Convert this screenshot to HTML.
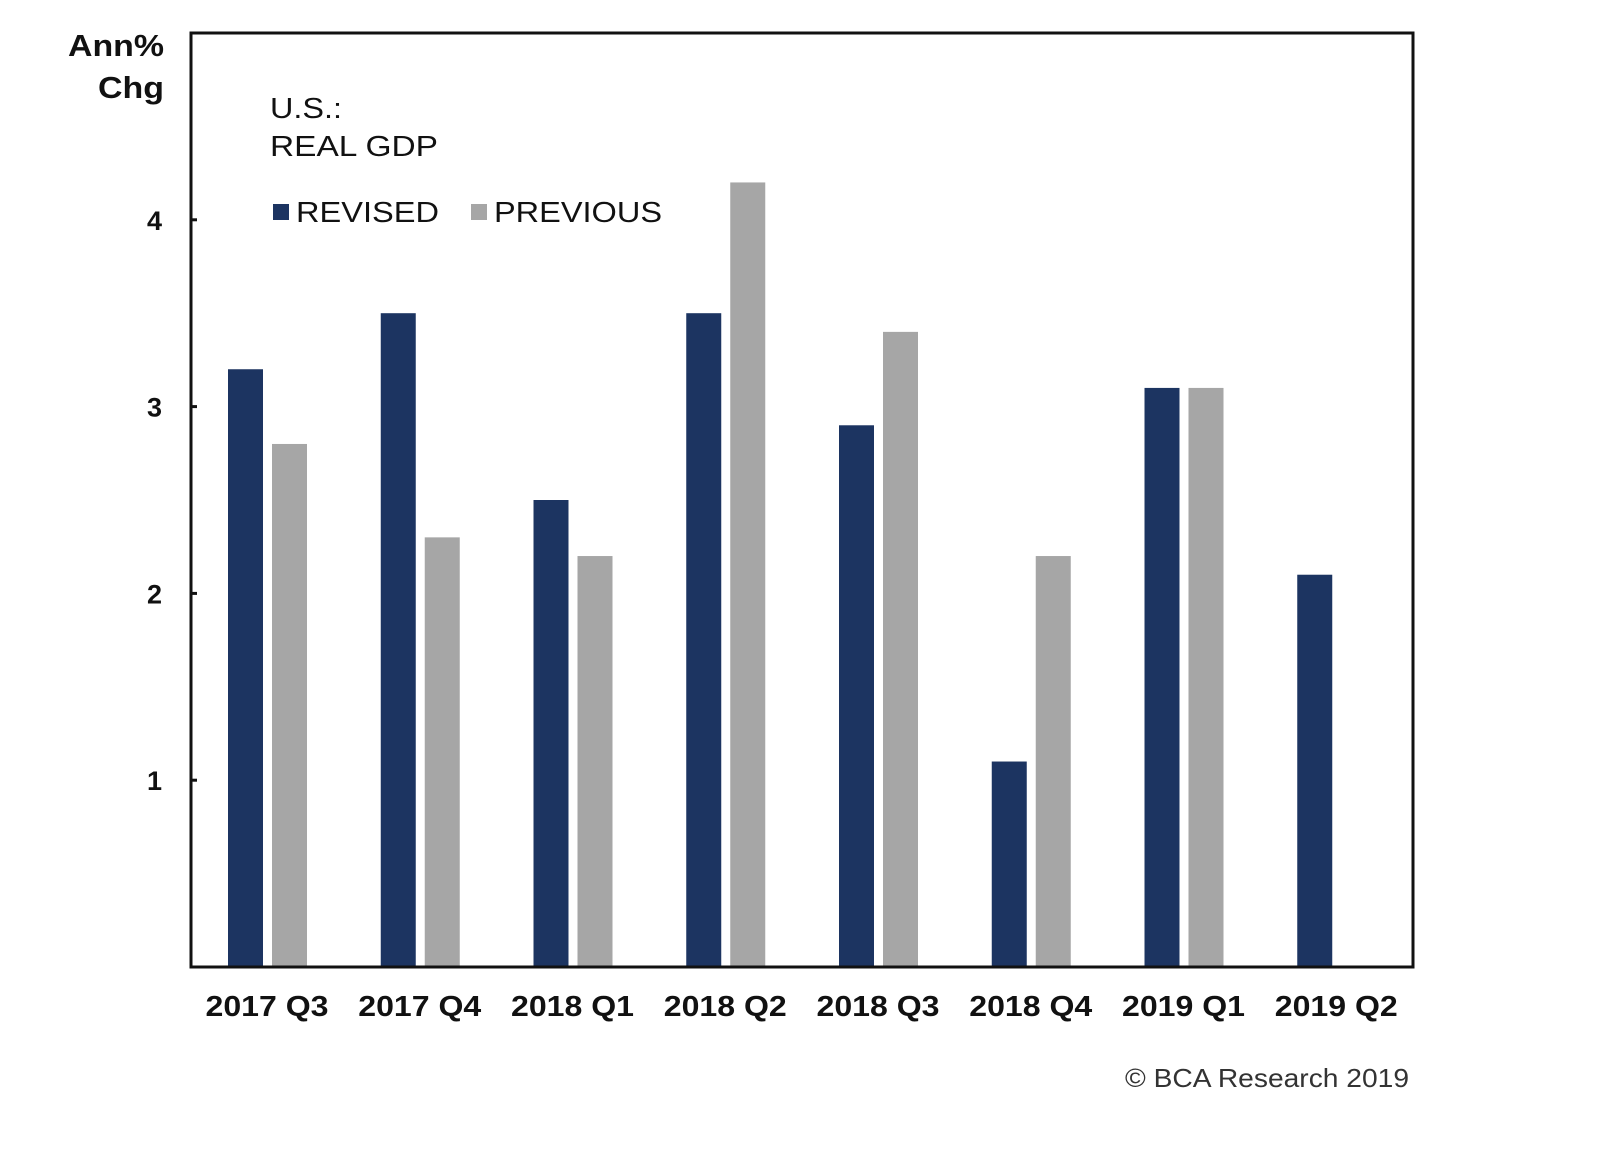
<!DOCTYPE html>
<html><head><meta charset="utf-8"><style>
body{margin:0;background:#fff;}
svg{display:block;font-family:"Liberation Sans",Arial,sans-serif;}
</style></head><body>
<svg id="chart" width="1600" height="1150" viewBox="0 0 1600 1150">
<g id="bars"></g>
<rect x="191" y="33" width="1222" height="934" fill="none" stroke="#111" stroke-width="3"/>
<g id="yticks"></g>
<g id="xlabels"></g>
<text x="164" y="56" text-anchor="end" font-size="31" font-weight="bold" fill="#111" textLength="96" lengthAdjust="spacingAndGlyphs">Ann%</text>
<text x="164" y="98" text-anchor="end" font-size="31" font-weight="bold" fill="#111" textLength="66" lengthAdjust="spacingAndGlyphs">Chg</text>
<text x="270" y="118" font-size="29" fill="#111" textLength="72" lengthAdjust="spacingAndGlyphs">U.S.:</text>
<text x="270" y="156" font-size="29" fill="#111" textLength="168" lengthAdjust="spacingAndGlyphs">REAL GDP</text>
<g>
<rect x="273" y="204" width="16" height="16" fill="#1c3461"/>
<text x="296" y="222" font-size="29" fill="#111" textLength="143" lengthAdjust="spacingAndGlyphs">REVISED</text>
<rect x="471" y="204" width="16" height="16" fill="#a6a6a6"/>
<text x="494" y="222" font-size="29" fill="#111" textLength="168" lengthAdjust="spacingAndGlyphs">PREVIOUS</text>
</g>
<text x="1409" y="1087" text-anchor="end" font-size="26" fill="#333" textLength="284" lengthAdjust="spacingAndGlyphs">© BCA Research 2019</text>
</svg>
<script>
const categories=["2017 Q3","2017 Q4","2018 Q1","2018 Q2","2018 Q3","2018 Q4","2019 Q1","2019 Q2"];
const revised=[3.2,3.5,2.5,3.5,2.9,1.1,3.1,2.1];
const previous=[2.8,2.3,2.2,4.2,3.4,2.2,3.1,null];
const yTicks=[1,2,3,4];
const NS="http://www.w3.org/2000/svg";
const L=191,R=1413,T=33,B=967,YMAX=5;
const gw=(R-L)/categories.length;
function y(v){return B-(v/YMAX)*(B-T);}
function mk(tag,at,parent){const e=document.createElementNS(NS,tag);for(const k in at)e.setAttribute(k,at[k]);parent.appendChild(e);return e;}
const bars=document.getElementById('bars'),yt=document.getElementById('yticks'),xl=document.getElementById('xlabels');
categories.forEach((c,i)=>{
  const x0=L+gw*i;
  if(revised[i]!=null){const r=mk('rect',{x:x0+37,y:y(revised[i]),width:35,height:B-y(revised[i]),fill:'#1c3461'},bars);
    
    }
  if(previous[i]!=null){const r=mk('rect',{x:x0+81,y:y(previous[i]),width:35,height:B-y(previous[i]),fill:'#a6a6a6'},bars);
    
    }
  const t=mk('text',{x:x0+76,y:1016,'text-anchor':'middle','font-size':29,'font-weight':'bold',fill:'#111',textLength:123,lengthAdjust:'spacingAndGlyphs'},xl);
  t.textContent=c;
  
  
});
yTicks.forEach(v=>{
  const l=mk('line',{x1:L,x2:L+6,y1:y(v),y2:y(v),stroke:'#111','stroke-width':3},yt);
  
  
  const t=mk('text',{x:162,y:y(v)+10,'text-anchor':'end','font-size':27,'font-weight':'bold',fill:'#111'},yt);
  t.textContent=v;
  
  
});
</script>
</body></html>
